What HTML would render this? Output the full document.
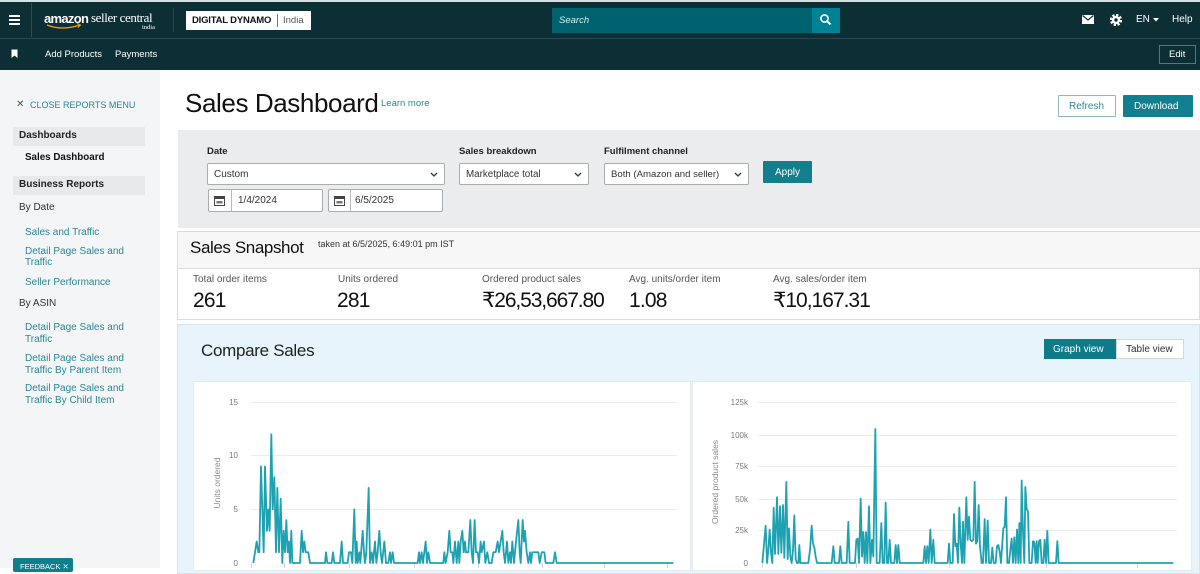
<!DOCTYPE html>
<html>
<head>
<meta charset="utf-8">
<style>
*{margin:0;padding:0;box-sizing:border-box;}
html,body{width:1200px;height:568px;overflow:hidden;background:#fff;font-family:"Liberation Sans",Arial,sans-serif;color:#111;}
.a{position:absolute;white-space:nowrap;line-height:1;}
.nav1{position:absolute;left:0;top:2px;width:1200px;height:36px;background:#0c2f35;}
.nav2{position:absolute;left:0;top:38px;width:1200px;height:32px;background:#0c2f35;border-top:1px solid #274b51;}
.w{color:#fff;}
.side{position:absolute;left:0;top:70px;width:160px;height:498px;background:#f4f5f6;}
.lnk{color:#2a8794;font-size:10px;}
.sbox{position:absolute;left:13px;width:132px;height:19px;background:#e8e9ea;}
.sel{position:absolute;background:#fff;border:1px solid #a9adb0;border-radius:2px;height:22px;}
.sel span{position:absolute;left:6px;top:6px;font-size:10px;color:#333;line-height:1;white-space:nowrap;}
.sel svg{position:absolute;right:6px;top:8px;}
.lbl{font-size:9.5px;font-weight:bold;color:#222;}
.mlab{font-size:10px;color:#555;}
.mval{font-size:21px;color:#111;letter-spacing:-0.8px;}
</style>
</head>
<body>
<div style="position:absolute;left:0;top:0;width:1200px;height:2px;background:#d9dede;"></div>
<div class="nav1"></div>
<div class="nav2"></div>

<div style="position:absolute;left:9px;top:15px;width:11px;height:2px;background:#fff;"></div>
<div style="position:absolute;left:9px;top:19px;width:11px;height:2px;background:#fff;"></div>
<div style="position:absolute;left:9px;top:23px;width:11px;height:2px;background:#fff;"></div>
<div style="position:absolute;left:31px;top:3px;width:1px;height:34px;background:#2a4e54;"></div>

<div class="a w" style="left:44px;top:12px;font-size:13px;font-weight:bold;letter-spacing:-0.7px;">amazon</div>
<div class="a w" style="left:91px;top:11px;font-size:13px;font-family:'Liberation Serif',serif;letter-spacing:-0.4px;">seller central</div>
<div class="a w" style="left:142px;top:25px;font-size:6.5px;font-family:'Liberation Serif',serif;">india</div>
<svg style="position:absolute;left:0;top:0;" width="200" height="38"><path d="M47 25 Q62 31 80 25" stroke="#f90" stroke-width="1.3" fill="none"/><path d="M77 23.5 L80.5 25 L78 27.5" stroke="#f90" stroke-width="1" fill="none"/></svg>
<div style="position:absolute;left:173px;top:8px;width:1px;height:24px;background:#25484e;"></div>

<div style="position:absolute;left:186px;top:11px;width:125px;height:19px;background:#fff;"></div>
<div class="a" style="left:192px;top:16px;font-size:9.5px;font-weight:bold;color:#111;letter-spacing:-0.2px;">DIGITAL DYNAMO</div>
<div style="position:absolute;left:277px;top:14px;width:1px;height:13px;background:#777;"></div>
<div class="a" style="left:283px;top:16px;font-size:9.5px;color:#555;">India</div>

<div style="position:absolute;left:552px;top:8px;width:260px;height:25px;background:#00626f;"></div>
<div class="a" style="left:559px;top:16px;font-size:9.5px;font-style:italic;color:#d8eef0;">Search</div>
<div style="position:absolute;left:812px;top:8px;width:28px;height:25px;background:#008296;"></div>
<svg style="position:absolute;left:819px;top:13px;" width="14" height="14"><circle cx="5.5" cy="5.5" r="3.6" stroke="#fff" stroke-width="1.6" fill="none"/><line x1="8.2" y1="8.2" x2="11.5" y2="11.5" stroke="#fff" stroke-width="2"/></svg>

<svg style="position:absolute;left:1081px;top:14px;" width="15" height="12"><rect x="1" y="1" width="12" height="9" fill="#fff"/><path d="M1.5 1.5 L7 6 L12.5 1.5" stroke="#0c2f35" stroke-width="1.2" fill="none"/></svg>
<svg style="position:absolute;left:1108px;top:12px;" width="16" height="16"><circle cx="8" cy="8" r="4.6" stroke="#fff" stroke-width="3" stroke-dasharray="2.2 1.4" fill="none"/><circle cx="8" cy="8" r="4" fill="#fff"/><circle cx="8" cy="8" r="1.7" fill="#0c2f35"/></svg>
<div class="a w" style="left:1136px;top:15px;font-size:10px;">EN</div>
<svg style="position:absolute;left:1153px;top:18px;" width="7" height="5"><path d="M0 0 L6 0 L3 3.5 Z" fill="#fff"/></svg>
<div class="a w" style="left:1172px;top:15px;font-size:10px;">Help</div>

<svg style="position:absolute;left:11px;top:49px;" width="8" height="10"><path d="M0.5 0.5 H6.5 V9 L3.5 6.5 L0.5 9 Z" fill="#fff"/></svg>
<div class="a w" style="left:45px;top:50px;font-size:9.5px;">Add Products</div>
<div class="a w" style="left:115px;top:50px;font-size:9.5px;">Payments</div>
<div style="position:absolute;left:1159px;top:45px;width:37px;height:19px;border:1px solid #57777d;"></div>
<div class="a w" style="left:1169px;top:50px;font-size:9.5px;">Edit</div>

<div class="side"></div>
<div class="a" style="left:16px;top:100px;font-size:10px;color:#555;">✕</div>
<div class="a lnk" style="left:30px;top:101px;font-size:9px;">CLOSE REPORTS MENU</div>
<div class="sbox" style="top:127px;"></div>
<div class="a" style="left:19px;top:131px;font-size:10px;font-weight:bold;color:#222;">Dashboards</div>
<div class="a" style="left:25px;top:153px;font-size:9.8px;font-weight:bold;color:#111;">Sales Dashboard</div>
<div class="sbox" style="top:176px;"></div>
<div class="a" style="left:19px;top:180px;font-size:10px;font-weight:bold;color:#222;">Business Reports</div>
<div class="a" style="left:19px;top:203px;font-size:10px;color:#333;">By Date</div>
<div class="a lnk" style="left:25px;top:228px;">Sales and Traffic</div>
<div class="a lnk" style="left:25px;top:247px;">Detail Page Sales and</div>
<div class="a lnk" style="left:25px;top:258px;">Traffic</div>
<div class="a lnk" style="left:25px;top:278px;">Seller Performance</div>
<div class="a" style="left:19px;top:299px;font-size:10px;color:#333;">By ASIN</div>
<div class="a lnk" style="left:25px;top:323px;">Detail Page Sales and</div>
<div class="a lnk" style="left:25px;top:335px;">Traffic</div>
<div class="a lnk" style="left:25px;top:354px;">Detail Page Sales and</div>
<div class="a lnk" style="left:25px;top:366px;">Traffic By Parent Item</div>
<div class="a lnk" style="left:25px;top:384px;">Detail Page Sales and</div>
<div class="a lnk" style="left:25px;top:396px;">Traffic By Child Item</div>
<div style="position:absolute;left:13px;top:558px;width:60px;height:14px;background:#0f7f8c;border-radius:2px;"></div>
<div class="a" style="left:20px;top:563px;font-size:7.5px;color:#fff;">FEEDBACK ✕</div>

<div class="a" style="left:185px;top:90px;font-size:26px;color:#111;letter-spacing:-0.4px;">Sales Dashboard</div>
<div class="a" style="left:381px;top:99px;font-size:9.5px;color:#2a8794;">Learn more</div>
<div style="position:absolute;left:1058px;top:95px;width:58px;height:22px;border:1px solid #8fb9be;background:#fff;border-radius:1px;"></div>
<div class="a" style="left:1069px;top:102px;font-size:10px;color:#2b8a97;">Refresh</div>
<div style="position:absolute;left:1123px;top:95px;width:70px;height:22px;background:#117f8d;border-radius:1px;"></div>
<div class="a" style="left:1134px;top:102px;font-size:10px;color:#fff;">Download</div>

<div style="position:absolute;left:178px;top:130px;width:1022px;height:98px;background:#eaeced;"></div>
<div class="a lbl" style="left:207px;top:147px;">Date</div>
<div class="sel" style="left:207px;top:163px;width:238px;"><span>Custom</span><svg width="8" height="6"><path d="M1 1 L4 4 L7 1" stroke="#333" stroke-width="1.3" fill="none"/></svg></div>
<div class="sel" style="left:208px;top:189px;width:115px;height:23px;"></div>
<div style="position:absolute;left:231px;top:190px;width:1px;height:21px;background:#bbb;"></div>
<svg style="position:absolute;left:214px;top:195px;" width="11" height="11"><rect x="0.5" y="1.5" width="10" height="9" fill="none" stroke="#444" stroke-width="1"/><rect x="0.5" y="1.5" width="10" height="2.5" fill="#444"/><rect x="2.5" y="6" width="6" height="2.5" fill="#777"/></svg>
<div class="a" style="left:238px;top:196px;font-size:10px;color:#333;">1/4/2024</div>
<div class="sel" style="left:328px;top:189px;width:115px;height:23px;"></div>
<div style="position:absolute;left:350px;top:190px;width:1px;height:21px;background:#bbb;"></div>
<svg style="position:absolute;left:334px;top:195px;" width="11" height="11"><rect x="0.5" y="1.5" width="10" height="9" fill="none" stroke="#444" stroke-width="1"/><rect x="0.5" y="1.5" width="10" height="2.5" fill="#444"/><rect x="2.5" y="6" width="6" height="2.5" fill="#777"/></svg>
<div class="a" style="left:355px;top:196px;font-size:10px;color:#333;">6/5/2025</div>

<div class="a lbl" style="left:459px;top:147px;">Sales breakdown</div>
<div class="sel" style="left:459px;top:163px;width:130px;"><span style="font-size:9.8px;">Marketplace total</span><svg width="8" height="6"><path d="M1 1 L4 4 L7 1" stroke="#333" stroke-width="1.3" fill="none"/></svg></div>
<div class="a lbl" style="left:604px;top:147px;">Fulfilment channel</div>
<div class="sel" style="left:604px;top:163px;width:145px;"><span style="font-size:9.6px;">Both (Amazon and seller)</span><svg width="8" height="6"><path d="M1 1 L4 4 L7 1" stroke="#333" stroke-width="1.3" fill="none"/></svg></div>
<div style="position:absolute;left:763px;top:161px;width:49px;height:22px;background:#137f8d;border-radius:1px;"></div>
<div class="a" style="left:775px;top:168px;font-size:10px;color:#fff;">Apply</div>

<div style="position:absolute;left:177px;top:231px;width:1023px;height:89px;border:1px solid #dcdcdc;background:#fff;"></div>
<div style="position:absolute;left:178px;top:232px;width:1022px;height:37px;background:#f7f7f7;border-bottom:1px solid #dcdcdc;"></div>
<div class="a" style="left:190px;top:239px;font-size:17px;color:#111;letter-spacing:-0.4px;">Sales Snapshot</div>
<div class="a" style="left:318px;top:240px;font-size:9px;color:#333;">taken at 6/5/2025, 6:49:01 pm IST</div>
<div class="a mlab" style="left:193px;top:275px;">Total order items</div>
<div class="a mlab" style="left:338px;top:275px;">Units ordered</div>
<div class="a mlab" style="left:482px;top:275px;">Ordered product sales</div>
<div class="a mlab" style="left:629px;top:275px;">Avg. units/order item</div>
<div class="a mlab" style="left:773px;top:275px;">Avg. sales/order item</div>
<div class="a mval" style="left:193px;top:290px;">261</div>
<div class="a mval" style="left:337px;top:290px;">281</div>
<div class="a mval" style="left:482px;top:290px;letter-spacing:-1.1px;">₹26,53,667.80</div>
<div class="a mval" style="left:629px;top:290px;">1.08</div>
<div class="a mval" style="left:773px;top:290px;letter-spacing:-1px;">₹10,167.31</div>

<div style="position:absolute;left:177px;top:324px;width:1023px;height:250px;background:#e7f4fb;border:1px solid #d6e4ec;"></div>
<div class="a" style="left:201px;top:342px;font-size:17px;color:#222;letter-spacing:-0.3px;">Compare Sales</div>
<div style="position:absolute;left:1044px;top:339px;width:72px;height:20px;background:#0f7b89;"></div>
<div class="a" style="left:1053px;top:345px;font-size:10px;color:#fff;">Graph view</div>
<div style="position:absolute;left:1116px;top:339px;width:68px;height:20px;background:#fff;border:1px solid #d3d8db;"></div>
<div class="a" style="left:1126px;top:345px;font-size:10px;color:#333;">Table view</div>

<div style="position:absolute;left:193px;top:381px;width:498px;height:190px;background:#fff;border:1px solid #e4eaee;"></div>
<div style="position:absolute;left:692px;top:381px;width:500px;height:190px;background:#fff;border:1px solid #e4eaee;"></div>

<svg style="position:absolute;left:0;top:0;" width="1200" height="568" font-family="Liberation Sans, Arial, sans-serif">
  <g stroke="#ececec" stroke-width="1">
    <line x1="251" y1="402.5" x2="677" y2="402.5"/>
    <line x1="251" y1="455.5" x2="677" y2="455.5"/>
    <line x1="251" y1="509.5" x2="677" y2="509.5"/>
    <line x1="758" y1="402.5" x2="1177" y2="402.5"/>
    <line x1="758" y1="435.5" x2="1177" y2="435.5"/>
    <line x1="758" y1="466.5" x2="1177" y2="466.5"/>
    <line x1="758" y1="499.5" x2="1177" y2="499.5"/>
    <line x1="758" y1="530.5" x2="1177" y2="530.5"/>
  </g>
  <g stroke="#cfd6d8" stroke-width="1">
    <line x1="251.5" y1="563" x2="251.5" y2="568"/>
    <line x1="284.5" y1="563" x2="284.5" y2="568"/>
    <line x1="349.5" y1="563" x2="349.5" y2="568"/>
    <line x1="414.5" y1="563" x2="414.5" y2="568"/>
    <line x1="478.5" y1="563" x2="478.5" y2="568"/>
    <line x1="542.5" y1="563" x2="542.5" y2="568"/>
    <line x1="604.5" y1="563" x2="604.5" y2="568"/>
    <line x1="667.5" y1="563" x2="667.5" y2="568"/>
    <line x1="762.5" y1="563" x2="762.5" y2="568"/>
    <line x1="856.5" y1="563" x2="856.5" y2="568"/>
    <line x1="949.5" y1="563" x2="949.5" y2="568"/>
    <line x1="1046.5" y1="563" x2="1046.5" y2="568"/>
    <line x1="1137.5" y1="563" x2="1137.5" y2="568"/>
  </g>
  <g font-size="8" fill="#7a7a7a" text-anchor="end">
    <text x="238" y="405">15</text>
    <text x="238" y="458">10</text>
    <text x="238" y="512">5</text>
    <text x="238" y="566">0</text>
    <text x="748" y="405">125k</text>
    <text x="748" y="438">100k</text>
    <text x="748" y="469">75k</text>
    <text x="748" y="502">50k</text>
    <text x="748" y="533">25k</text>
    <text x="748" y="566">0</text>
  </g>
  <text transform="translate(220,483) rotate(-90)" font-size="8.5" fill="#8a8a8a" text-anchor="middle">Units ordered</text>
  <text transform="translate(718,482) rotate(-90)" font-size="8.5" fill="#8a8a8a" text-anchor="middle">Ordered product sales</text>

  <g transform="translate(175,563) scale(0.33333,-10.73)">
    <polyline vector-effect="non-scaling-stroke" fill="none" stroke="#1ea2b2" stroke-width="1.8" stroke-linejoin="round" points="235,0 245,2 250,1 253,1 258,9 262,5 266,1 270,9 276,3 280,5 284,3 289,12 293,5 298,8 303,1 307,7 312,1 317,6 322,0 326,3 330,1 334,4 338,1 342,2 345,0 349,3 352,0 375,0 380,3 384,1 388,2 392,1 400,1 405,0 450,0 453,1 457,0 470,0 474,1 478,0 495,0 500,2 504,0 518,0 522,1 528,1 532,0 538,5 542,0 545,2 548,0 553,1 556,0 563,3 567,1 570,0 574,1 581,7 585,0 590,1 594,0 600,2 604,0 608,1 613,3 617,1 621,0 628,2 633,0 640,0 645,1 648,0 653,1 657,0 728,0 732,1 735,0 740,1 744,0 752,2 756,0 760,1 765,0 805,0 808,1 812,0 818,1 823,3 827,1 832,1 835,0 840,2 845,0 850,2 853,0 857,2 862,3 866,1 870,2 873,1 880,1 886,4 890,1 894,0 899,4 903,1 908,1 912,0 917,2 920,1 927,2 931,0 937,1 942,0 950,0 955,1 962,1 968,2 972,1 977,2 982,3 986,1 990,0 996,2 1000,0 1005,1 1008,0 1012,2 1017,0 1023,2 1030,4 1034,1 1037,0 1043,4 1047,2 1050,3 1055,1 1060,0 1065,1 1068,0 1072,1 1090,1 1094,0 1100,1 1108,1 1112,0 1135,0 1140,1 1145,0 1495,0"/>
  </g>
  <g transform="translate(685,563) scale(0.33333,-1.288)">
    <polyline vector-effect="non-scaling-stroke" fill="none" stroke="#1ea2b2" stroke-width="1.8" stroke-linejoin="round" points="232,0 242,29 246,0 250,10 254,26 258,8 262,0 266,43 270,7 276,51 280,7 285,44 289,8 294,45 298,4 304,63 308,3 312,27 316,5 320,0 324,10 328,37 332,3 336,0 340,0 343,14 346,0 370,0 375,10 380,29 384,15 388,12 392,5 396,0 440,0 445,13 449,0 462,0 466,13 470,0 485,0 490,32 494,0 510,0 514,18 518,19 522,0 527,50 531,5 535,24 539,0 543,24 547,0 552,44 556,0 561,18 565,5 571,104 575,0 584,0 589,31 593,0 598,0 602,47 606,0 610,0 614,18 618,0 628,0 632,14 636,0 640,14 644,0 715,0 719,13 723,0 727,13 731,0 736,26 740,0 745,18 749,0 788,0 792,15 796,0 803,0 807,38 811,13 815,15 819,0 823,43 827,15 831,0 834,32 838,0 844,51 848,18 852,36 856,18 860,17 865,18 869,63 873,15 877,17 881,45 885,13 890,0 894,0 899,34 903,0 908,33 912,0 918,0 922,12 926,0 932,0 936,13 940,14 944,9 948,0 955,27 959,28 963,51 967,0 972,0 976,10 980,19 984,0 988,20 992,0 996,26 1000,0 1003,31 1007,0 1010,64 1014,24 1018,0 1021,59 1025,42 1029,40 1033,0 1040,0 1044,17 1048,16 1052,0 1055,17 1058,0 1062,17 1066,18 1070,0 1075,0 1079,18 1083,0 1087,25 1091,0 1113,0 1117,17 1121,0 1465,0"/>
  </g>
</svg>
</body>
</html>
